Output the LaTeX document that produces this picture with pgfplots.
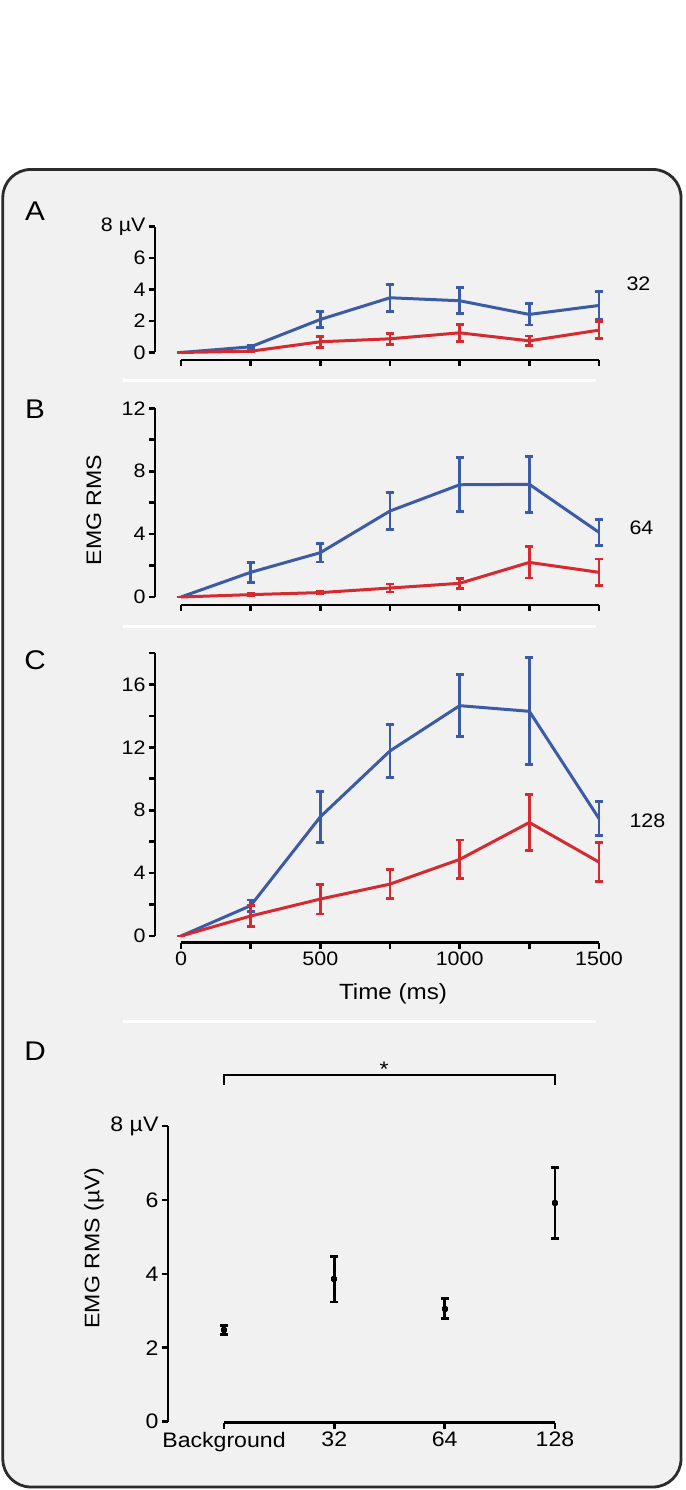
\documentclass[border=0pt]{standalone}
\usepackage{fontspec}
\setmainfont{Liberation Sans}[FakeStretch=1.1]
\usepackage{pgfplots}
\usepackage{pgfplotstable}
\pgfplotsset{compat=1.18}
\definecolor{bl}{HTML}{3B5BA6}
\definecolor{rd}{HTML}{D42A30}
\definecolor{boxbg}{HTML}{F1F1F2}
\definecolor{boxline}{HTML}{2B2B2B}
\newcommand\tickfont{\fontsize{19.5}{22}\selectfont}
\newcommand\labfont{\fontsize{21}{24}\selectfont}
\newcommand\titfont{\fontsize{22}{25}\selectfont}
\newcommand\dfont{\fontsize{21}{24}\selectfont}
\newcommand\letterfont{\fontsize{27}{30}\selectfont}

\pgfplotstableread{
x y e
0 0 0
250 0.36 0.10
500 2.10 0.53
750 3.48 0.86
1000 3.29 0.82
1250 2.42 0.67
1500 2.99 0.91
}\Ablue
\pgfplotstableread{
x y e
0 0 0
250 0.08 0.05
500 0.68 0.36
750 0.87 0.35
1000 1.25 0.53
1250 0.74 0.31
1500 1.42 0.54
}\Ared
\pgfplotstableread{
x y e
0 0 0
250 1.57 0.63
500 2.82 0.59
750 5.47 1.20
1000 7.14 1.72
1250 7.17 1.79
1500 4.11 0.84
}\Bblue
\pgfplotstableread{
x y e
0 0 0
250 0.15 0.06
500 0.28 0.08
750 0.57 0.25
1000 0.87 0.33
1250 2.20 0.99
1500 1.57 0.85
}\Bred
\pgfplotstableread{
x y e
0 0 0
250 1.93 0.36
500 7.58 1.63
750 11.77 1.67
1000 14.65 1.98
1250 14.29 3.40
1500 7.47 1.08
}\Cblue
\pgfplotstableread{
x y e
0 0 0
250 1.27 0.68
500 2.35 0.95
750 3.30 0.92
1000 4.87 1.23
1250 7.22 1.77
1500 4.70 1.23
}\Cred
\pgfplotstableread{
x y e
0 2.48 0.13
1 3.85 0.61
2 3.06 0.27
3 5.92 0.96
}\Dtab

\pgfplotsset{
  panel/.style={
    scale only axis,
    axis x line*=bottom, axis y line*=left,
    axis line style={line width=2.7pt, black, -},
    every tick/.style={line width=2.7pt, black},
    major tick length=6pt, minor tick length=6pt,
    tick align=outside,
    clip=false,
    ticklabel style={font=\tickfont},
    xmin=0, xmax=1500, ymin=0,
    width=418pt,
  },
  eb/.style={
    color=#1, line width=3pt, line join=round, mark=none,
    /pgfplots/error bars/y dir=both,
    /pgfplots/error bars/y explicit,
    /pgfplots/error bars/error bar style={line width=2.8pt, color=#1, solid},
    /pgfplots/error bars/error mark options={rotate=90, mark size=4pt, line width=2.8pt, color=#1},
  },
}

\begin{document}
\begin{tikzpicture}[x=1pt,y=1pt]
\useasboundingbox (0,0) rectangle (685,1490);
\fill[white] (0,0) rectangle (685,1490);
\draw[line width=2.8pt, draw=boxline, fill=boxbg, rounded corners=28pt] (2.8,3) rectangle (681,1320.5);
% separators
\foreach \yy in {381,627,1022} {\draw[white, line width=3pt] (123,1490-\yy) -- (596,1490-\yy);}
% panel letters
\node[font=\letterfont] at (35,1490-211) {A};
\node[font=\letterfont] at (35,1490-409) {B};
\node[font=\letterfont] at (35,1490-660) {C};
\node[font=\letterfont] at (35,1490-1051) {D};
% right labels
\node[font=\tickfont, anchor=west] at (623,1490-284) {32};
\node[font=\tickfont, anchor=west] at (626,1490-528) {64};
\node[font=\tickfont, anchor=west] at (626,1490-821) {128};
% y labels
\node[font=\labfont, rotate=90] at (94,1490-510) {EMG RMS};
\node[font=\labfont, rotate=90] at (94,1490-1248) {EMG RMS (µV)};
\node[font=\titfont] at (393,1490-994) {Time (ms)};
% bracket
\draw[line width=2.6pt, black] (224,1490-1085) -- (224,1490-1075) -- (555,1490-1075) -- (555,1490-1085);
\node[font=\dfont] at (384,1490-1069) {*};

% Panel A
\begin{axis}[panel, at={(181pt,1137.5pt)}, anchor=south west,
  height=125.8pt, ymax=8,
  axis x line shift=7.5pt, axis y line shift=26pt,
  xtick={0,250,...,1500}, xticklabels={},
  ytick={0,2,4,6,8}, yticklabels={0,2,4,6,8 µV}]
\addplot[eb=bl] table[x=x,y=y,y error=e]{\Ablue};
\addplot[eb=rd] table[x=x,y=y,y error=e]{\Ared};
\end{axis}

% Panel B
\begin{axis}[panel, at={(181pt,893pt)}, anchor=south west,
  height=188.6pt, ymax=12,
  axis x line shift=8pt, axis y line shift=26pt,
  xtick={0,250,...,1500}, xticklabels={},
  ytick={0,4,8,12}, yticklabels={0,4,8,12},
  minor ytick={2,6,10}]
\addplot[eb=bl] table[x=x,y=y,y error=e]{\Bblue};
\addplot[eb=rd] table[x=x,y=y,y error=e]{\Bred};
\end{axis}

% Panel C
\begin{axis}[panel, at={(181pt,554pt)}, anchor=south west,
  height=283pt, ymax=18,
  axis x line shift=6.7pt, axis y line shift=26pt,
  xtick={0,500,1000,1500}, xticklabels={0,500,1000,1500},
  minor xtick={250,750,1250},
  ytick={0,4,8,12,16}, yticklabels={0,4,8,12,16},
  minor ytick={2,6,10,14,18}]
\addplot[eb=bl] table[x=x,y=y,y error=e]{\Cblue};
\addplot[eb=rd] table[x=x,y=y,y error=e]{\Cred};
\end{axis}

% Panel D
\begin{axis}[panel, at={(224pt,68.3pt)}, anchor=south west,
  width=331pt, height=295.7pt, xmin=0, xmax=3, ymin=0, ymax=8,
  axis x line shift=1pt, axis y line shift=56pt,
  ticklabel style={font=\dfont},
  xtick={0,1,2,3}, xticklabels={Background,32,64,128},
  ytick={0,2,4,6,8}, yticklabels={0,2,4,6,8 µV}]
\addplot[eb=black, only marks, mark=square*, mark size=1.5pt, mark options={solid}] table[x=x,y=y,y error=e]{\Dtab};
\end{axis}
\end{tikzpicture}
\end{document}
